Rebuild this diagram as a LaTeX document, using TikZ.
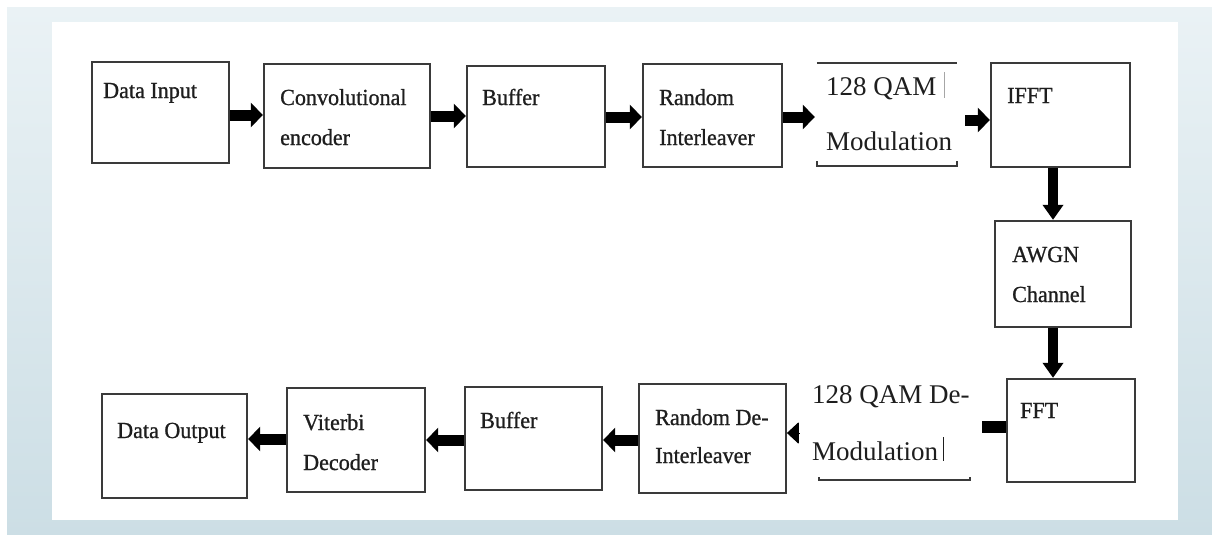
\documentclass[tikz,border=0pt]{standalone}
\usepackage{fontspec}
\setmainfont{Liberation Serif}
\newfontfamily\boxfont[FakeBold=0.9,FakeStretch=0.96]{Liberation Serif}
\usetikzlibrary{arrows.meta,calc}
\definecolor{frameA}{HTML}{EAF2F5}
\definecolor{frameB}{HTML}{CCDEE5}
\definecolor{edge}{HTML}{3A3A3A}
\definecolor{ink}{HTML}{1E1E1E}
\tikzset{
  blk/.style={draw=edge, line width=2.3pt, fill=white, minimum width=#1, inner sep=0pt},
  blktext/.style={anchor=base west, align=left, inner sep=0pt, text=ink,
    font=\boxfont\fontsize{23}{40}\selectfont},
  qamtext/.style={anchor=base west, align=left, inner sep=0pt, text=ink},
  harr/.style={draw=black, line width=11pt, -{Triangle[length=12pt,width=24pt]}},
  varr/.style={draw=black, line width=10pt, -{Triangle[length=15pt,width=20pt]}},
  dotarr/.style={draw=black, line width=1pt, -{Triangle[length=12pt,width=22pt,round]}},
  barline/.style={draw=black, line width=12pt},
  rule/.style={draw=edge, line width=2.3pt},
  caret/.style={draw=#1, line width=1pt},
}
\begin{document}
\begin{tikzpicture}[x=1pt,y=-1pt]
\useasboundingbox (0,0) rectangle (1212,535);
% background frame
\fill[white] (0,0) rectangle (1212,535);
\shade[top color=frameA, bottom color=frameB] (7,8) rectangle (1212,535);
\fill[white] (52,22) rectangle (1178,520);

% top row (text nodes are anchored at the baseline of their last line)
\node[blk=137pt, minimum height=101pt] (di) at (160.5,112.5) {};
\node[blktext] (diT) at (103,98) {Data Input};

\node[blk=166pt, minimum height=104pt] (ce) at (347,116) {};
\node[blktext] (ceT) at (280,145) {Convolutional\\encoder};

\node[blk=138pt, minimum height=101pt] (b1) at (536,116.5) {};
\node[blktext] (b1T) at (482,105) {Buffer};

\node[blk=139pt, minimum height=103pt] (ri) at (712.5,115.5) {};
\node[blktext] (riT) at (659,145) {Random\\Interleaver};

\node[minimum width=140pt, minimum height=103pt, inner sep=0pt] (qam) at (887,114.5) {};
\node[qamtext, font=\fontsize{27}{55}\selectfont] (qamT) at (826,150) {128 QAM\\Modulation};
\draw[rule] (qam.north west) -- (qam.north east);
\draw[rule] ($(qam.south west)+(0,-5)$) -- (qam.south west) -- (qam.south east) -- ($(qam.south east)+(0,-5)$);
\draw[caret=gray!70] (944,72) -- (944,98);

\node[blk=139pt, minimum height=104pt] (ifft) at (1060.5,115) {};
\node[blktext] (ifftT) at (1007,103) {IFFT};

% right column
\node[blk=136pt, minimum height=106pt] (awgn) at (1063,274) {};
\node[blktext] (awgnT) at (1012,302) {AWGN\\Channel};

\node[blk=128pt, minimum height=103pt] (fft) at (1071,430.5) {};
\node[blktext] (fftT) at (1020,418) {FFT};

% bottom row
\node[minimum width=164pt, minimum height=95pt, inner sep=0pt] (qamd) at (891,432.5) {};
\node[qamtext, font=\fontsize{27}{57}\selectfont] (qamdT) at (812,460) {128 QAM De-\\Modulation};
\draw[rule] ($(qamd.south west)+(10,-3)$) -- ($(qamd.south west)+(10,0)$) -- ($(qamd.south east)+(-3,0)$) -- ($(qamd.south east)+(-3,-3)$);
\draw[caret=ink] (943,437) -- (943,461);

\node[blk=147pt, minimum height=109pt] (rdi) at (712.5,438.5) {};
\node[blktext, font=\boxfont\fontsize{23}{38}\selectfont] (rdiT) at (655,463) {Random De-\\Interleaver};

\node[blk=137pt, minimum height=103pt] (b2) at (533.5,438.5) {};
\node[blktext] (b2T) at (480,428) {Buffer};

\node[blk=138pt, minimum height=104pt] (vit) at (356,440) {};
\node[blktext] (vitT) at (303,470) {Viterbi\\Decoder};

\node[blk=145pt, minimum height=104pt] (do) at (174.5,446) {};
\node[blktext] (doT) at (117,438) {Data Output};

% connectors, top row
\draw[harr] (di.east |- 0,115) -- (ce.west |- 0,115);
\draw[harr] (ce.east |- 0,116) -- (b1.west |- 0,116);
\draw[harr] (b1.east |- 0,117) -- (ri.west |- 0,117);
\draw[harr] (ri.east |- 0,117) -- ([xshift=-2pt]qam.west |- 0,117);
\coordinate (qamOut) at (965,120);
\draw[harr] (qamOut) -- (ifft.west |- qamOut);

% right column
\draw[varr] (ifft.south -| 1053,0) -- (awgn.north -| 1053,0);
\draw[varr] (awgn.south -| 1053,0) -- (fft.north -| 1053,0);

% bottom row
\coordinate (barEnd) at (982,427);
\draw[barline] (fft.west |- barEnd) -- (barEnd);
\coordinate (dotStart) at (799,433);
\draw[dotarr] (dotStart) -- (rdi.east |- dotStart);
\draw[harr] (rdi.west |- 0,440) -- (b2.east |- 0,440);
\draw[harr] (b2.west |- 0,440) -- (vit.east |- 0,440);
\draw[harr] (vit.west |- 0,439) -- (do.east |- 0,439);
\end{tikzpicture}
\end{document}
